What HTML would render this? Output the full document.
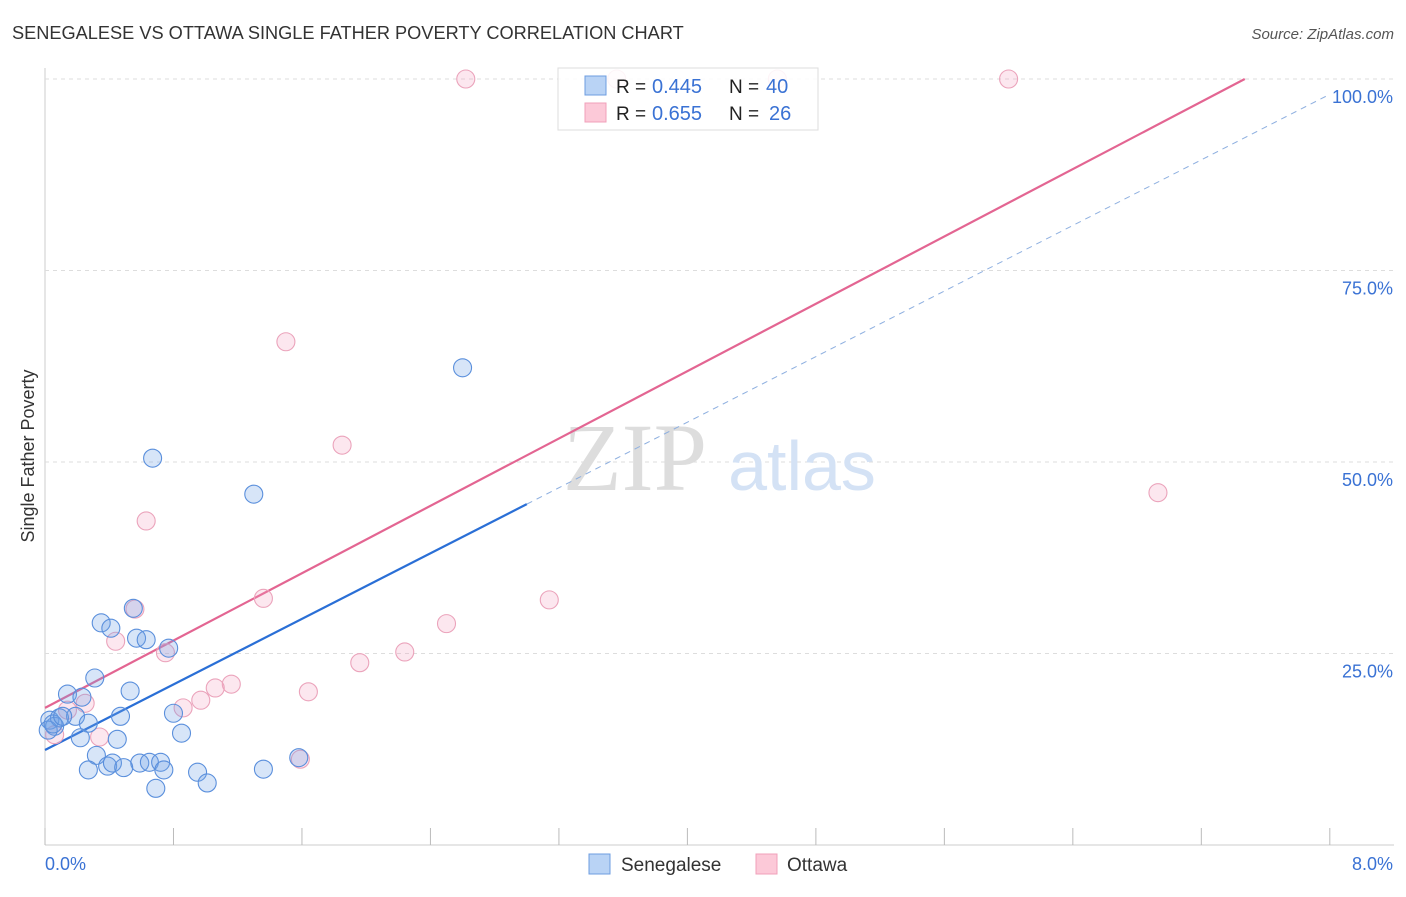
<!DOCTYPE html>
<html><head><meta charset="utf-8"><style>
body{margin:0;background:#fff;font-family:"Liberation Sans",sans-serif}
</style></head><body>
<svg width="1406" height="892" xmlns="http://www.w3.org/2000/svg">
<text x="12" y="39" font-size="18.2" fill="#333">SENEGALESE VS OTTAWA SINGLE FATHER POVERTY CORRELATION CHART</text>
<text x="1394" y="39" font-size="15" fill="#555" font-style="italic" text-anchor="end">Source: ZipAtlas.com</text>
<g id="grid"></g>
<text x="635" y="490" font-size="96" fill="#ddd" font-family="Liberation Serif,serif" text-anchor="middle">ZIP</text>
<text x="802" y="490" font-size="70" fill="#d4e2f5" text-anchor="middle">atlas</text>
<text transform="translate(34,456) rotate(-90)" font-size="18" fill="#333" text-anchor="middle">Single Father Poverty</text>
<g id="lines"></g>
<g id="pts"></g>
<g>
<rect x="558" y="68" width="260" height="62" fill="#fff" fill-opacity="0.88" stroke="#ddd"/>
<rect x="585" y="76" width="21" height="19" fill="#b9d3f5" stroke="#6d9de0"/>
<rect x="585" y="103" width="21" height="19" fill="#fcc9d8" stroke="#f0a0ba"/>
<text x="616" y="93" font-size="19" fill="#222">R =</text>
<text x="652" y="93" font-size="20" fill="#3a72d4">0.445</text>
<text x="729" y="93" font-size="19" fill="#222">N =</text>
<text x="766" y="93" font-size="20" fill="#3a72d4">40</text>
<text x="616" y="120" font-size="19" fill="#222">R =</text>
<text x="652" y="120" font-size="20" fill="#3a72d4">0.655</text>
<text x="729" y="120" font-size="19" fill="#222">N =</text>
<text x="769" y="120" font-size="20" fill="#3a72d4">26</text>
</g>
<g>
<rect x="589" y="854" width="21" height="20" fill="#b9d3f5" stroke="#6d9de0"/>
<text x="621" y="871" font-size="19" fill="#333">Senegalese</text>
<rect x="756" y="854" width="21" height="20" fill="#fcc9d8" stroke="#f0a0ba"/>
<text x="787" y="871" font-size="19" fill="#333">Ottawa</text>
</g>
<text x="45" y="870" font-size="18" fill="#3a72d4">0.0%</text>
<text x="1393" y="870" font-size="18" fill="#3a72d4" text-anchor="end">8.0%</text>
</svg>
<script>
const blueX=[0.67,1.30,2.60,0.55,0.35,0.41,0.57,0.63,0.77,0.31,0.14,0.23,0.53,0.47,0.80,0.19,0.03,0.06,0.27,0.09,0.02,0.22,0.85,0.45,0.32,0.39,0.42,0.59,0.65,0.72,0.74,0.27,0.49,0.95,1.36,1.58,1.01,0.69,0.05,0.11];
const blueY=[50.5,45.8,62.3,30.9,29.0,28.3,27.0,26.8,25.7,21.8,19.7,19.3,20.1,16.8,17.2,16.8,16.3,15.5,15.9,16.6,15.0,14.0,14.6,13.8,11.7,10.3,10.7,10.7,10.8,10.8,9.8,9.8,10.1,9.5,9.9,11.4,8.1,7.4,15.8,16.8];
const pinkX=[2.62,6.00,3.56,4.56,1.50,1.85,6.93,0.63,1.36,3.14,0.56,0.44,0.75,2.50,2.24,1.96,1.64,1.16,1.06,0.97,0.86,0.25,0.34,0.06,1.59,0.14];
const pinkY=[100,100,100,100,65.7,52.2,46.0,42.3,32.2,32.0,30.8,26.6,25.1,28.9,25.2,23.8,20.0,21.0,20.5,18.9,17.9,18.5,14.1,14.4,11.2,17.6];
const blueFit=[12.4,10.7];
const pinkFit=[17.9,10.99];
const yTicks=[25,50,75,100];
const yTickLabels=["25.0%","50.0%","75.0%","100.0%"];
const xTicks=[0,0.8,1.6,2.4,3.2,4.0,4.8,5.6,6.4,7.2,8.0];
const NS="http://www.w3.org/2000/svg";
const sx=v=>45+v*160.6, sy=v=>845-v*7.66;
function mk(t,a,p){const e=document.createElementNS(NS,t);for(const k in a)e.setAttribute(k,a[k]);p.appendChild(e);return e;}
const grid=document.getElementById('grid');
const ax=mk('line',{x1:45,y1:68,x2:45,y2:845,stroke:'#ccc'},grid);


const bx=mk('line',{x1:45,y1:845,x2:1394,y2:845,stroke:'#ccc'},grid);


yTicks.forEach((v,i)=>{
 const g=mk('line',{x1:45,y1:sy(v),x2:1394,y2:sy(v),stroke:'#ddd','stroke-dasharray':'4,4'},grid);
 
 
 const t=mk('text',{x:1393,y:sy(v)+24,'font-size':18,fill:'#3a72d4','text-anchor':'end'},grid);
 t.textContent=yTickLabels[i];
 
 
});
xTicks.forEach(v=>{
 const l=mk('line',{x1:sx(v),y1:828,x2:sx(v),y2:845,stroke:'#bbb'},grid);
 
 
});
const L=document.getElementById('lines');
const pEnd=(100-pinkFit[0])/pinkFit[1];
const pl=mk('line',{x1:sx(0),y1:sy(pinkFit[0]),x2:sx(pEnd),y2:sy(100),stroke:'#e36592','stroke-width':2.2},L);


const bl=mk('line',{x1:sx(0),y1:sy(blueFit[0]),x2:sx(3.0),y2:sy(blueFit[0]+3*blueFit[1]),stroke:'#2a6fd6','stroke-width':2.2},L);


const bd=mk('line',{x1:sx(3.0),y1:sy(blueFit[0]+3*blueFit[1]),x2:sx(8),y2:sy(blueFit[0]+8*blueFit[1]),stroke:'#8fb0e0','stroke-width':1,'stroke-dasharray':'6,5'},L);


const P=document.getElementById('pts');
pinkX.forEach((x,i)=>{
 const c=mk('circle',{cx:sx(x),cy:sy(pinkY[i]),r:9,fill:'rgba(245,160,190,0.25)',stroke:'#eba3bb','stroke-width':1.1},P);
 
 
});
blueX.forEach((x,i)=>{
 const c=mk('circle',{cx:sx(x),cy:sy(blueY[i]),r:9,fill:'rgba(110,160,230,0.28)',stroke:'#5a8fdc','stroke-width':1.1},P);
 
 
});
</script>
</body></html>
